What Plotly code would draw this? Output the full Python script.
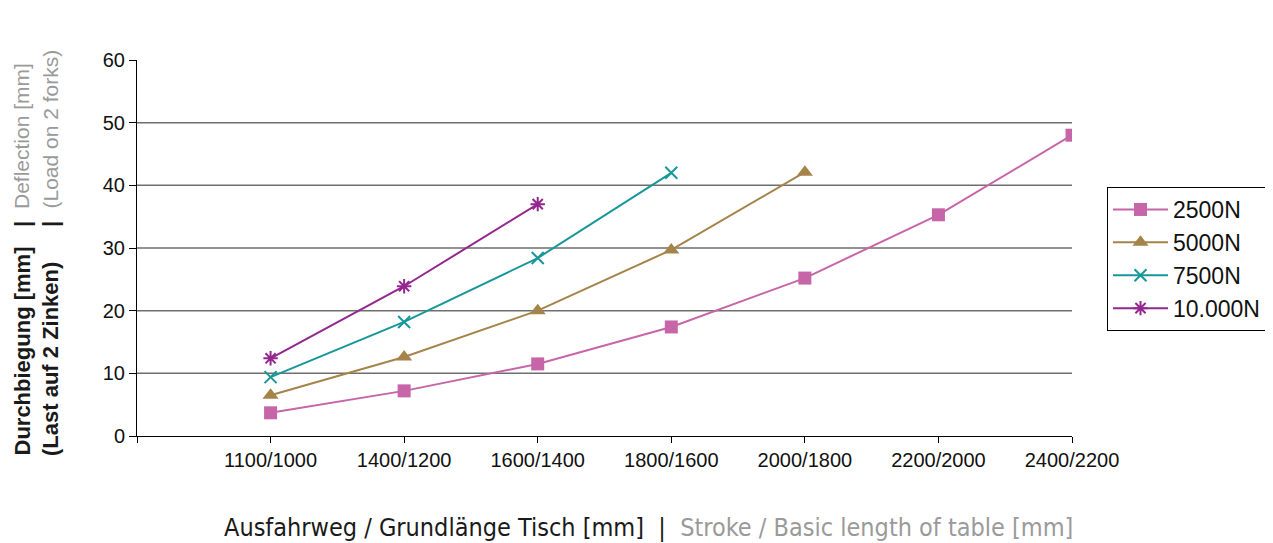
import plotly.graph_objects as go

categories = ["1100/1000", "1400/1200", "1600/1400", "1800/1600", "2000/1800", "2200/2000", "2400/2200"]
series_names = ["2500N", "5000N", "7500N", "10.000N"]
v2500 = [3.7, 7.2, 11.5, 17.4, 25.2, 35.3, 48.0]
v5000 = [6.5, 12.6, 20.0, 29.7, 42.1]
v7500 = [9.4, 18.2, 28.4, 42.0]
v10000 = [12.4, 23.9, 37.0]
y_ticks = [0, 10, 20, 30, 40, 50, 60]
grid_values = [10, 20, 30, 40, 50]

colors = ["#c765a9", "#a5844a", "#17979a", "#93278f"]
symbols = ["square", "triangle-up", "x-thin", "asterisk"]
values = [v2500, v5000, v7500, v10000]

# browser body has an 8px margin, so the figure is offset by 8px
OFF = 8
W, H = 1273 - OFF, 543 - OFF
L, R, T, B = 137, 1072, 60, 436   # target plot-area pixels in the window

fig = go.Figure()
for name, vals, col, sym in zip(series_names, values, colors, symbols):
    xs = list(range(len(vals)))
    if sym in ("x-thin", "asterisk"):
        marker = dict(symbol=sym, size=12, color=col, line=dict(color=col, width=2))
    elif sym == "square":
        marker = dict(symbol=sym, size=13, color=col, line=dict(width=0))
    else:
        marker = dict(symbol=sym, size=14, color=col, line=dict(width=0))
    fig.add_trace(go.Scatter(
        x=xs, y=vals, name=name, mode="lines+markers",
        line=dict(color=col, width=2), marker=marker,
        hoverinfo="skip"))

for g in grid_values:
    fig.add_shape(type="line", xref="paper", yref="y", x0=0, x1=1, y0=g, y1=g,
                  line=dict(color="#6e6e6e", width=1.5), layer="below")

def px_x(p):
    return (p - L) / (R - L)

def px_y(p):
    return (B - p) / (B - T)

ann = []
tfont = "Liberation Sans, Arial, sans-serif"
dark, grey = "#1a1a1a", "#9a9a9a"
for xc, de, en in [(22, "<b>Durchbiegung [mm]</b>", "Deflection [mm]"),
                   (50, "<b>(Last auf 2 Zinken)</b>", "(Load on 2 forks)")]:
    ann.append(dict(text=de, x=px_x(xc), y=px_y(458), xref="paper", yref="paper",
                    xanchor="center", yanchor="bottom", textangle=-90, showarrow=False,
                    font=dict(family=tfont, size=22, color=dark)))
    ann.append(dict(text="<b>|</b>", x=px_x(xc), y=px_y(224), xref="paper", yref="paper",
                    xanchor="center", yanchor="middle", textangle=-90, showarrow=False,
                    font=dict(family=tfont, size=22, color=dark)))
    ann.append(dict(text=en, x=px_x(xc), y=px_y(211), xref="paper", yref="paper",
                    xanchor="center", yanchor="bottom", textangle=-90, showarrow=False,
                    font=dict(family=tfont, size=21, color=grey)))
nfont = "Liberation Sans Narrow, DejaVu Sans Condensed, Arial Narrow, sans-serif"
ann.append(dict(text="<span style='color:%s'>Ausfahrweg / Grundlänge Tisch [mm]&nbsp;&nbsp;|&nbsp;&nbsp;</span>"
                     "<span style='color:%s'>Stroke / Basic length of table [mm]</span>" % (dark, grey),
                x=px_x(648), y=px_y(527), xref="paper", yref="paper",
                xanchor="center", yanchor="middle", showarrow=False,
                font=dict(family=nfont, size=25, color=dark)))

fig.update_layout(
    width=W, height=H,
    margin=dict(l=L - OFF, r=1273 - R, t=T - OFF, b=543 - B, pad=0, autoexpand=False),
    paper_bgcolor="white", plot_bgcolor="white",
    font=dict(family="Liberation Sans, Arial, sans-serif", size=20, color="#111"),
    xaxis=dict(range=[-1, len(categories) - 1],
               tickmode="array", tickvals=[-1] + list(range(len(categories))),
               ticktext=[""] + categories,
               showgrid=False, zeroline=False, showline=True, linecolor="black", linewidth=1,
               ticks="outside", ticklen=6, tickcolor="black", tickfont=dict(size=20)),
    yaxis=dict(range=[0, 60], tickmode="array", tickvals=y_ticks,
               showgrid=False, zeroline=False, showline=True, linecolor="black", linewidth=1,
               ticks="outside", ticklen=7, tickcolor="black", tickfont=dict(size=20)),
    legend=dict(x=px_x(1107), y=px_y(187), xanchor="left", yanchor="top",
                bordercolor="black", borderwidth=1, bgcolor="white",
                font=dict(size=23, color="#111"), tracegroupgap=0, itemwidth=55),
    annotations=ann,
    showlegend=True,
)

fig.write_html("out.html")
